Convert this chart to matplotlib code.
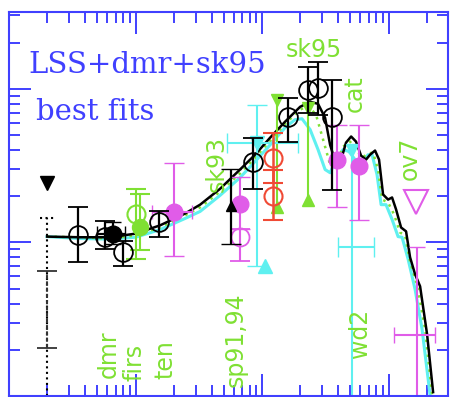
import matplotlib
matplotlib.use("Agg")
import matplotlib.pyplot as plt
import numpy as np

BLUE = "#4040ff"
GREEN = "#7fe033"
MAGENTA = "#e05ce8"
CYAN = "#5ff0f0"
RED = "#f04a35"

# model curves (multipole l, power)
black_l = [2, 3.64, 6.29, 10, 15.6, 24.6, 32.4, 46.5, 67, 88.1, 116, 152, 200, 240, 277,
           315, 345, 385, 422, 461, 506, 553, 606, 664, 714, 782, 841, 905, 991, 1066,
           1146, 1256, 1375, 1479, 1620, 1775, 2015, 2249]
black_v = [10.9, 10.8, 10.8, 11.4, 12.9, 15.4, 17.6, 22.3, 29.8, 37.2, 48.1, 61.0, 76.3, 82.2, 79.8,
           64.8, 43.2, 32.1, 34.6, 44.6, 48.9, 45.3, 36.7, 34.6, 37.2, 39.6, 34.6, 20.5, 19.0, 19.6,
           16.4, 12.5, 11.8, 8.0, 6.2, 5.18, 2.53, 1.06]

cyan_l = [2, 3.64, 6.29, 10, 15.6, 24.6, 32.4, 46.5, 67, 88.1, 116, 152, 182, 207, 240,
          277, 315, 345, 385, 437, 487, 543, 618, 689, 741, 811, 873, 955, 1066, 1189,
          1279, 1426, 1620, 1840, 2130]
cyan_v = [10.9, 10.6, 10.5, 10.8, 12.1, 14.3, 15.9, 20.2, 26.4, 33.6, 43.2, 55.8, 62.9, 63.8, 54.2,
          40.2, 29.8, 28.4, 34.6, 40.2, 39.0, 34.6, 33.6, 37.2, 37.2, 27.6, 17.6, 17.6, 14.1, 10.9,
          10.8, 7.8, 4.95, 2.72, 1.01]

green_l = [2, 3.64, 6.29, 10, 15.6, 24.6, 32.4, 46.5, 67, 88.1, 116, 152, 200, 231, 267,
           304, 345, 385, 437, 496, 553, 618, 689, 754, 826, 889, 991, 1105, 1233, 1350,
           1479, 1680, 1945, 2208]
green_v = [10.9, 10.8, 10.6, 11.1, 12.5, 15.0, 16.9, 21.4, 28.1, 35.6, 46.0, 59.1, 73.1, 77.5, 67.8,
           46.6, 32.1, 32.1, 42.0, 45.3, 40.2, 35.6, 37.9, 38.4, 29.8, 19.0, 18.2, 15.2, 11.6, 11.1,
           7.5, 5.3, 2.72, 1.01]

# quadrupole
quad_l = 2.0
quad_lim = 14.5
quad_hi, quad_lo = 6.48, 2.05
quad_tri = 24.5

# open black circles
blk_l = [3.5, 5.7, 8.0, 15.3, 85, 161, 231, 277, 357]
blk_v = [11.1, 10.9, 8.7, 13.5, 33.6, 65.8, 98.6, 101, 65.8]
blk_hi = [17.1, 13.7, 10.2, 16.1, 48.1, 87.4, 139, 150, 114]
blk_lo = [7.4, 9.0, 7.0, 10.8, 22.4, 45.3, 69.8, 67.0, 21.8]

# dmr filled
dmr_l, dmr_v, dmr_hi, dmr_lo = 6.6, 11.3, 13.5, 9.7
dmr_lmin, dmr_lmax = 4.96, 8.26

# black triangle point
bt_l, bt_v, bt_hi, bt_lo = 57, 17.2, 30.2, 9.7

# firs (green)
firs_open = (10.0, 15.2, 22.4, 7.8)
firs_fill = (10.9, 12.5, 20.8, 8.9)

# magenta filled
mag_l = [20.2, 67, 392, 585]
mag_v = [15.7, 17.9, 34.6, 31.6]
mag_hi = [33.1, 26.8, 58.4, 58.4]
mag_lo = [8.1, 12.3, 16.9, 13.9]
mag_lmin, mag_lmax = 13.5, 28
# magenta open
mago_l, mago_v, mago_hi, mago_lo = 67, 10.8, 12.3, 7.6

# red sp91,94
red_l = [122, 122]
red_v = [35.6, 19.9]
red_hi = [51.8, 29.8]
red_lo = [24.5, 13.9]

# green limits
glim_l = [131, 231]
glim_hi = [84.8, 75.3]
glim_lo = [16.9, 19.0]

# cyan point
cy_l, cy_v, cy_hi, cy_lo = 92, 44.6, 78.7, 7.0
cy_lmin, cy_lmax = 53, 193

# wd2
wd_l, wd_v, wd_bar, wd_lmin, wd_lmax = 514, 40.2, 9.3, 399, 768

# ov7
ov_l, ov_v = 1650, 18.2

# magenta at high l
mh_l, mh_top, mh_v, mh_lmin, mh_lmax = 1680, 9.3, 2.49, 1105, 2333

YMIN, YMAX = 1.0, 316
XMIN, XMAX = 1, 2950

fig = plt.figure(figsize=(4.63, 3.97), dpi=100)
ax = fig.add_axes([9 / 463, 1 / 397, 439 / 463, 384 / 397])
ax.set_xscale("log")
ax.set_yscale("log")
ax.set_xlim(XMIN, XMAX)
ax.set_ylim(YMIN, YMAX)

# curves
ax.plot(cyan_l, cyan_v, color=CYAN, lw=2.2, zorder=2)
ax.plot(green_l, green_v, color=GREEN, lw=1.8, ls=(0, (1, 2)), zorder=2)
ax.plot(black_l, black_v, color="k", lw=1.8, zorder=2)

# quadrupole
ax.plot([quad_l, quad_l], [YMIN, quad_lim], color="k", ls=":", lw=1.5)
ax.plot([quad_l * 0.88, quad_l * 1.14], [quad_lim, quad_lim], color="k", ls=":", lw=1.5)
eb = ax.errorbar(quad_l, quad_hi, yerr=[[quad_hi - quad_lo], [0]], fmt="none",
                 ecolor="#333333", capsize=7, elinewidth=1.5, capthick=1.3)
eb[2][0].set_linestyle((0, (2, 1)))
ax.plot(quad_l, quad_tri, marker="v", color="k", ms=10, ls="")

# green limit lines
for l, hi, lo in zip(glim_l, glim_hi, glim_lo):
    ax.plot([l, l], [lo, hi], color=GREEN, lw=1.5, zorder=2.5)
    ax.plot(l, hi, marker="v", color=GREEN, ms=8, ls="", zorder=2.5)
    ax.plot(l, lo, marker="^", color=GREEN, ms=8, ls="", zorder=2.5)

# cyan point
ax.errorbar(cy_l, cy_v, yerr=[[cy_v - cy_lo], [cy_hi - cy_v]],
            xerr=[[cy_l - cy_lmin], [cy_lmax - cy_l]], fmt="v", color=CYAN,
            ms=10, capsize=7, elinewidth=1.5, zorder=2.5)
ax.plot(cy_l * 1.15, cy_lo, marker="^", color=CYAN, ms=10, ls="")

# wd2
ax.plot([wd_l, wd_l], [YMIN, wd_v], color=CYAN, lw=1.5, zorder=2.5)
ax.plot(wd_l, wd_v, marker="v", color=CYAN, ms=9, ls="", zorder=2.5)
ax.errorbar(wd_l, wd_bar, xerr=[[wd_l - wd_lmin], [wd_lmax - wd_l]], fmt="none",
            ecolor=CYAN, capsize=7, elinewidth=1.5)

# red
ax.errorbar(red_l, red_v, yerr=[np.subtract(red_v, red_lo), np.subtract(red_hi, red_v)],
            fmt="o", mfc="none", mec=RED, ecolor=RED, ms=13, mew=1.5, capsize=7,
            elinewidth=1.8, capthick=1.8, zorder=3)

# firs
for (l, v, hi, lo), filled in [(firs_open, False), (firs_fill, True)]:
    ax.errorbar(l, v, yerr=[[v - lo], [hi - v]], fmt="o", color=GREEN,
                mfc=GREEN if filled else "none", ms=13 if not filled else 11,
                mew=1.5, capsize=7, elinewidth=1.5, zorder=3)

# magenta
ax.errorbar(mag_l, mag_v, yerr=[np.subtract(mag_v, mag_lo), np.subtract(mag_hi, mag_v)],
            fmt="o", color=MAGENTA, ms=12, capsize=7, elinewidth=1.5, zorder=3)
ax.errorbar(mag_l[0], mag_v[0], xerr=[[mag_l[0] - mag_lmin], [mag_lmax - mag_l[0]]],
            fmt="none", ecolor=MAGENTA, capsize=5, elinewidth=1.5, zorder=3)
ax.errorbar(mago_l, mago_v, yerr=[[mago_v - mago_lo], [mago_hi - mago_v]], fmt="o",
            mfc="none", mec=MAGENTA, ecolor=MAGENTA, ms=13, mew=1.3, capsize=7,
            elinewidth=1.5, zorder=3)
ax.plot(ov_l, ov_v, marker="v", mfc="none", mec=MAGENTA, ms=17, mew=1.5, ls="")
ax.errorbar(mh_l, mh_top, yerr=[[mh_top - YMIN], [0]], fmt="none", ecolor=MAGENTA,
            capsize=6, elinewidth=1.5)
ax.errorbar(mh_l, mh_v, xerr=[[mh_l - mh_lmin], [mh_lmax - mh_l]], fmt="none",
            ecolor=MAGENTA, capsize=6, elinewidth=1.5)

# black
ax.errorbar(blk_l, blk_v, yerr=[np.subtract(blk_v, blk_lo), np.subtract(blk_hi, blk_v)],
            fmt="o", mfc="none", mec="k", ecolor="k", ms=13.5, mew=1.3, capsize=7,
            elinewidth=1.6, capthick=1.6, zorder=4)
ax.errorbar(dmr_l, dmr_v, yerr=[[dmr_v - dmr_lo], [dmr_hi - dmr_v]],
            xerr=[[dmr_l - dmr_lmin], [dmr_lmax - dmr_l]], fmt="o", color="k",
            ms=12, capsize=6, elinewidth=1.6, zorder=4)
ax.errorbar(bt_l, bt_v, yerr=[[bt_v - bt_lo], [bt_hi - bt_v]], fmt="^", color="k",
            ms=7, capsize=7, elinewidth=1.6, zorder=4)

# labels
ax.text((28 - 9) / 439, 1 - (73 - 12) / 384, "LSS+dmr+sk95", transform=ax.transAxes,
        family="DejaVu Serif", fontsize=21, color=BLUE, va="baseline", ha="left")
ax.text((36 - 9) / 439, 1 - (120 - 12) / 384, "best fits", transform=ax.transAxes,
        family="DejaVu Serif", fontsize=21, color=BLUE, va="baseline", ha="left")

labels = ["dmr", "firs", "ten", "sp91,94", "wd2", "sk93", "cat", "ov7"]
label_px = [(109, 354), (134, 362), (165, 360), (236, 340), (360, 333),
            (217, 164), (355, 94), (410, 158)]
for s, (px, py) in zip(labels, label_px):
    ax.text((px - 9) / 439, 1 - (py - 12) / 384, s, transform=ax.transAxes,
            rotation=90, color=GREEN, fontsize=17, ha="center", va="center")
ax.text((314 - 9) / 439, 1 - (50 - 12) / 384, "sk95", transform=ax.transAxes,
        color=GREEN, fontsize=17, ha="center", va="center")

for sp in ax.spines.values():
    sp.set_color(BLUE)
    sp.set_linewidth(1.5)
ax.tick_params(which="both", direction="in", top=True, right=True, color=BLUE,
               labelleft=False, labelbottom=False, width=1.4)
ax.tick_params(which="major", length=16)
ax.tick_params(which="minor", length=8)

fig.savefig("out.png", dpi=100)
